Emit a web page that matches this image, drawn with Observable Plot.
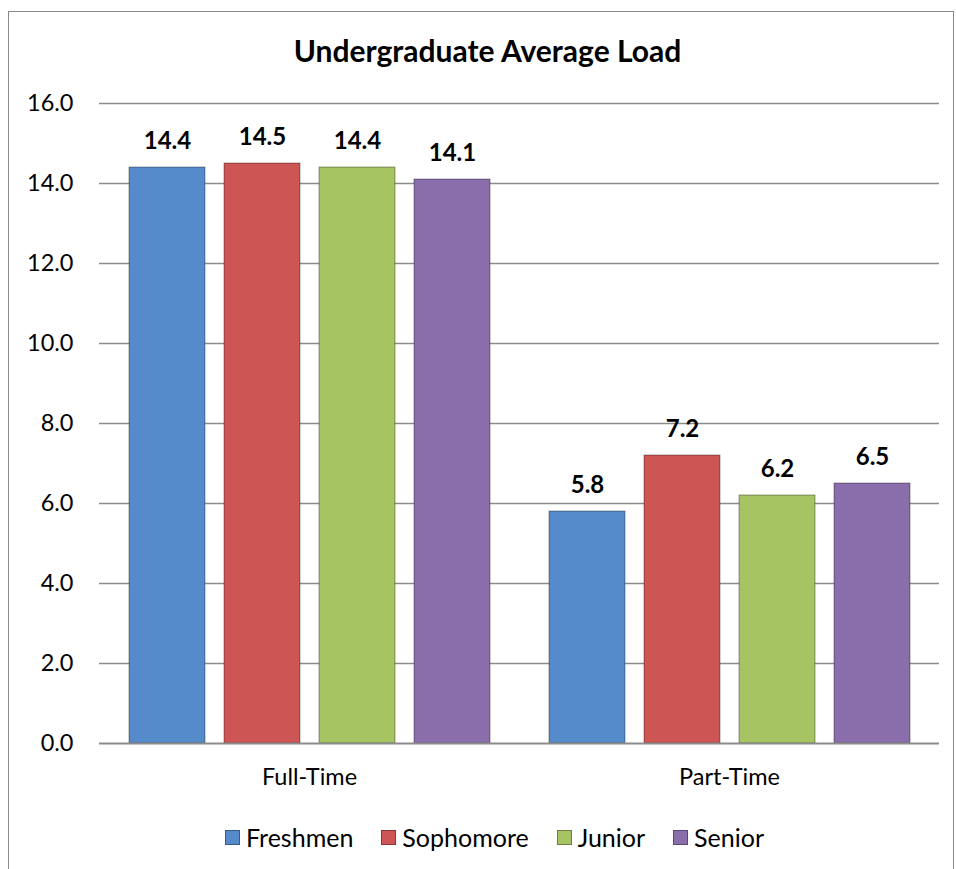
<!DOCTYPE html>
<html>
<head>
<meta charset="utf-8">
<script src="https://cdn.jsdelivr.net/npm/d3@7"></script>
<script src="https://cdn.jsdelivr.net/npm/@observablehq/plot@0.6"></script>
<style>
  html, body { margin: 0; padding: 0; background: #fff; }
  body { width: 956px; height: 869px; position: relative; overflow: hidden; font-family: Lato, "Open Sans", sans-serif; }
  #frame { position: absolute; left: 8px; top: 11px; width: 946px; height: 900px; border: 1.5px solid #8a8a8a; box-sizing: border-box; }
  #title { position: absolute; left: 0; width: 975px; top: 32px; text-align: center; font-weight: bold; font-size: 30px; color: #000; }
  #chart { position: absolute; left: 0; top: 80px; }
  #legend { position: absolute; left: 0; width: 989px; top: 822px; display: flex; justify-content: center; align-items: center; font-size: 25px; color: #000; }
  .item { display: flex; align-items: center; margin: 0 14px; }
  .sw { width: 15px; height: 15px; margin-right: 6px; box-sizing: border-box; border: 1px solid rgba(0,0,0,0.35); }
</style>
</head>
<body>
<div id="frame"></div>
<div id="title">Undergraduate Average Load</div>
<div id="chart"></div>
<div id="legend"></div>
<script>
const groups = ["Full-Time", "Part-Time"];
const classes = ["Freshmen", "Sophomore", "Junior", "Senior"];
const fullTime = [14.4, 14.5, 14.4, 14.1];
const partTime = [5.8, 7.2, 6.2, 6.5];
const yTicks = [0, 2, 4, 6, 8, 10, 12, 14, 16];
const colors = ["#558bcb", "#cd5553", "#a7c463", "#8a6dab"];

const seriesByGroup = [fullTime, partTime];
const data = groups.flatMap((g, gi) =>
  classes.map((c, ci) => ({ group: g, cls: c, value: seriesByGroup[gi][ci] }))
);

const chart = Plot.plot({
  width: 956,
  height: 730,
  marginTop: 23,
  marginBottom: 67,
  marginLeft: 98,
  marginRight: 17,
  style: { fontFamily: "Lato, 'Open Sans', sans-serif", fontSize: "23.5px", color: "#000", background: "transparent" },
  fx: { domain: groups, padding: 0, axis: "bottom", tickSize: 0, tickPadding: 25, label: null, fontSize: 26.5 },
  x: { domain: classes, axis: null, paddingInner: 0.2, paddingOuter: 0.306 },
  y: { domain: [0, 16], ticks: yTicks, tickFormat: d => d.toFixed(1), tickSize: 0, tickPadding: 26, label: null },
  color: { domain: classes, range: colors },
  marks: [
    Plot.ruleY(yTicks.filter(t => t > 0), { stroke: "#8c8c8c", strokeWidth: 1.4 }),
    Plot.barY(data, { fx: "group", x: "cls", y: "value", fill: "cls", stroke: "#000", strokeOpacity: 0.3, strokeWidth: 1.2 }),
    Plot.ruleY([0], { stroke: "#8c8c8c", strokeWidth: 2.2 }),
    Plot.text(data, { fx: "group", x: "cls", y: "value", text: d => d.value.toFixed(1), lineAnchor: "bottom", dy: -19, fontWeight: "bold", fontSize: 24, fill: "#000" })
  ]
});
document.getElementById("chart").appendChild(chart);

const legend = document.getElementById("legend");
classes.forEach((c, i) => {
  const item = document.createElement("div");
  item.className = "item";
  const sw = document.createElement("span");
  sw.className = "sw";
  sw.style.background = colors[i];
  const label = document.createElement("span");
  label.textContent = c;
  item.appendChild(sw);
  item.appendChild(label);
  legend.appendChild(item);
});
</script>
</body>
</html>
